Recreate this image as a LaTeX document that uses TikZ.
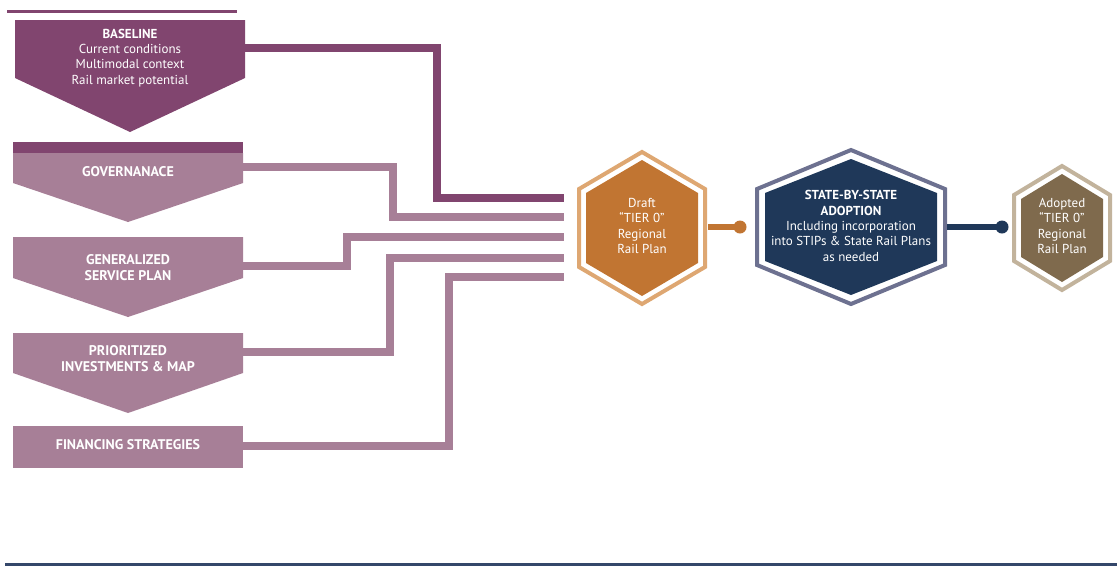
\documentclass[tikz,border=0pt]{standalone}
\usepackage{fontspec}
\setmainfont{PT Sans}
\definecolor{plumdark}{HTML}{81456F}
\definecolor{plumlight}{HTML}{A77F97}
\definecolor{orangefill}{HTML}{C17532}
\definecolor{orangeedge}{HTML}{DEA772}
\definecolor{navyfill}{HTML}{1F3859}
\definecolor{navyedge}{HTML}{6D7190}
\definecolor{brownfill}{HTML}{7F6A4D}
\definecolor{brownedge}{HTML}{C2B39C}
\definecolor{ruleblue}{HTML}{34476A}
% hexagon with pointed top: centre x, centre y, half width, half height, half side
\newcommand\hexpath[5]{(#1,#2-#4) -- (#1+#3,#2-#5) -- (#1+#3,#2+#5) -- (#1,#2+#4) -- (#1-#3,#2+#5) -- (#1-#3,#2-#5) -- cycle}
\tikzset{
  label/.style={text=white, align=center, font=\fontsize{13}{15.3}\selectfont, inner sep=0pt},
  caps/.style={text=white, align=center, font=\fontsize{14}{16}\selectfont\bfseries, inner sep=0pt},
  feed/.style={line width=8pt, line join=miter, line cap=butt},
  tie/.style={line width=6pt, line cap=butt}
}
\begin{document}
\begin{tikzpicture}[x=1pt, y=-1pt]
\useasboundingbox (0,0) rectangle (1117,566);

% rules
\fill[plumdark] (7,9.5) rectangle (237,12.5);
\fill[ruleblue] (5,562.5) rectangle (1117,566);

% step arrows
\fill[plumdark] (15,20) -- (245,20) -- (245,78) -- (130,132) -- (15,78) -- cycle;
\fill[plumdark] (13,141.5) rectangle (243,153);
\fill[plumlight] (13,153) -- (243,153) -- (243,183) -- (128,222) -- (13,183) -- cycle;
\fill[plumlight] (13,237) -- (243,237) -- (243,278) -- (128,317) -- (13,278) -- cycle;
\fill[plumlight] (13,333) -- (243,333) -- (243,373) -- (128,413) -- (13,373) -- cycle;
\fill[plumlight] (13,426) rectangle (243,468);

\node[label] (baseline) at (130,58) {{\bfseries BASELINE}\\Current conditions\\Multimodal context\\Rail market potential};
\node[caps] (gov) at (128,172) {GOVERNANACE};
\node[caps] (gsp) at (128,268) {GENERALIZED\\SERVICE PLAN};
\node[caps] (pim) at (128,359) {PRIORITIZED\\INVESTMENTS \& MAP};
\node[caps] (fin) at (128,445) {FINANCING STRATEGIES};

\coordinate (bl-e) at (245,47.5);
\coordinate (gv-e) at (243,167);
\coordinate (gs-e) at (243,265.5);
\coordinate (pi-e) at (243,352);
\coordinate (fi-e) at (243,446);
\coordinate (in1) at (564,198);
\coordinate (in2) at (564,217);
\coordinate (in3) at (564,237);
\coordinate (in4) at (564,258);
\coordinate (in5) at (564,277);

% feeders into the draft plan
\draw[feed, plumdark] (bl-e) -- ++(192,0) |- (in1);
\draw[feed, plumlight] (gv-e) -- ++(150,0) |- (in2);
\draw[feed, plumlight] (gs-e) -- ++(103.5,0) |- (in3);
\draw[feed, plumlight] (pi-e) -- ++(146.5,0) |- (in4);
\draw[feed, plumlight] (fi-e) -- ++(206,0) |- (in5);

% draft plan
\draw[orangeedge, line width=4pt] \hexpath{642}{228}{63}{76}{39};
\fill[orangefill] \hexpath{642}{228}{56}{68}{35};
\node[label] (draft) at (642,226) {Draft\\``TIER 0''\\Regional\\Rail Plan};

% state adoption
\draw[navyedge, line width=4pt] \hexpath{851}{227}{94}{77}{38};
\fill[navyfill] \hexpath{851}{227}{86}{68}{34};
\node[label] (adopt) at (851,226) {{\bfseries STATE-BY-STATE}\\{\bfseries ADOPTION}\\Including incorporation\\into STIPs \& State Rail Plans\\as needed};

% adopted plan
\draw[brownedge, line width=4pt] \hexpath{1062}{228}{48}{62}{33};
\fill[brownfill] \hexpath{1062}{228}{41}{54}{29};
\node[label] (final) at (1062,226) {Adopted\\``TIER 0''\\Regional\\Rail Plan};

% ties
\coordinate (dr-e) at (708,227);
\coordinate (ad-e) at (947,227);
\coordinate (dot1) at (740,227);
\coordinate (dot2) at (1002,227);
\draw[tie, orangefill] (dr-e) -- (dot1);
\fill[orangefill] (dot1) circle (6.5);
\draw[tie, navyfill] (ad-e) -- (dot2);
\fill[navyfill] (dot2) circle (6.5);
\end{tikzpicture}
\end{document}
